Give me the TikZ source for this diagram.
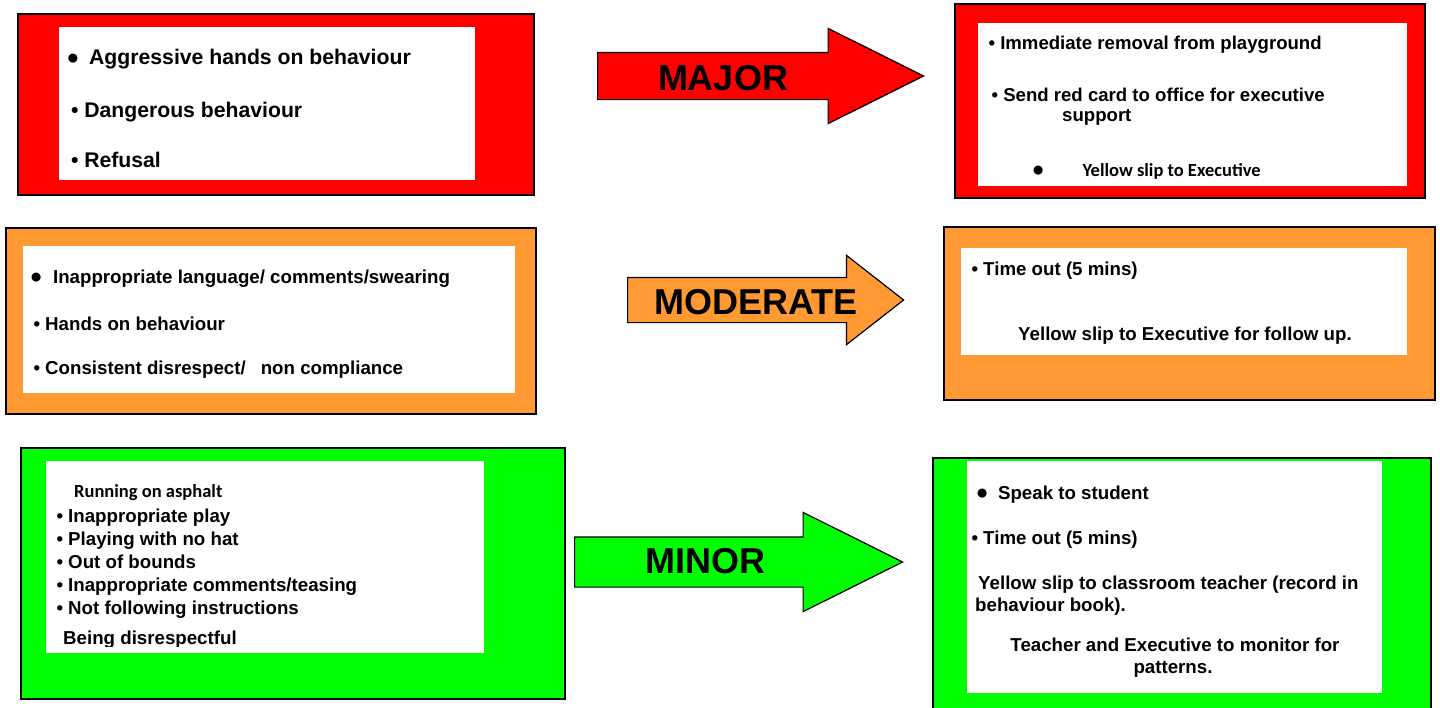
\documentclass[tikz,border=0pt]{standalone}
\usepackage{fontspec}
\setmainfont{Liberation Sans}
\newfontfamily\calibrifont{Carlito}
\usepackage{xcolor}
\usetikzlibrary{shapes.arrows, positioning}

\definecolor{majorred}{RGB}{255,0,0}
\definecolor{moderateorange}{RGB}{255,153,51}
\definecolor{minorgreen}{RGB}{0,255,0}
\newcommand{\fsz}[1]{\fontsize{#1pt}{#1pt}\selectfont}
\newcommand{\bigbul}{{\fsz{21}●}}

\begin{document}
\begin{tikzpicture}[x=1pt, y=-1pt,
    levelbox/.style={draw=black, line width=2.2pt, anchor=north west, inner sep=0pt},
    whitebox/.style={fill=white, anchor=north west, inner sep=0pt},
    bodytext/.style={anchor=base west, inner sep=0pt, font=\bfseries\fsz{18.7}},
    bigarrow/.style={single arrow, draw=black, line width=1.2pt, anchor=tail, inner xsep=0pt},
    arrowtext/.style={inner sep=0pt, font=\bfseries\fsz{36}}]
    \useasboundingbox (0,0) rectangle (1440,707);

    % boxes
    \node[levelbox, fill=majorred, minimum width=516pt, minimum height=181pt] (majorcause) at (17,13) {};
    \node[whitebox, minimum width=416pt, minimum height=153pt] (majorcausein) at (59,27) {};
    \node[levelbox, fill=majorred, minimum width=470pt, minimum height=194pt] (majoraction) at (954,3) {};
    \node[whitebox, minimum width=429pt, minimum height=163pt] (majoractionin) at (978,23) {};

    \node[levelbox, fill=moderateorange, minimum width=530pt, minimum height=186pt] (moderatecause) at (5,227) {};
    \node[whitebox, minimum width=492pt, minimum height=147pt] (moderatecausein) at (23,246) {};
    \node[levelbox, fill=moderateorange, minimum width=491pt, minimum height=173pt] (moderateaction) at (943,226) {};
    \node[whitebox, minimum width=446pt, minimum height=107pt] (moderateactionin) at (961,248) {};

    \node[levelbox, fill=minorgreen, minimum width=544pt, minimum height=251pt] (minorcause) at (20,447) {};
    \node[whitebox, minimum width=438pt, minimum height=192pt] (minorcausein) at (46,461) {};
    \node[levelbox, fill=minorgreen, minimum width=498pt, minimum height=265pt] (minoraction) at (932,457) {};
    \node[whitebox, minimum width=415pt, minimum height=232pt] (minoractionin) at (967,461) {};

    % arrows
    \node[bigarrow, fill=majorred, minimum height=326pt, inner ysep=23pt, single arrow head extend=24pt, single arrow tip angle=53] (majorarrow) at (597,76) {};
    \node[arrowtext] (majorlabel) at (723,78) {MAJOR};
    \node[bigarrow, fill=moderateorange, minimum height=276pt, inner ysep=22pt, single arrow head extend=22pt, single arrow tip angle=76] (moderatearrow) at (627,300) {};
    \node[arrowtext] (moderatelabel) at (756,302) {MODERATE};
    \node[bigarrow, fill=minorgreen, minimum height=328pt, inner ysep=24.5pt, single arrow head extend=24.5pt, single arrow tip angle=53] (minorarrow) at (574,562) {};
    \node[arrowtext] (minorlabel) at (705,561) {MINOR};

    % major texts
    \node[bodytext, font=\bfseries\fsz{21.2}] (mc1) at (66.3,64) {\bigbul\hspace{10pt}Aggressive hands on behaviour};
    \node[bodytext, font=\bfseries\fsz{21.2}] (mc2) at (70.8,117) {•~Dangerous behaviour};
    \node[bodytext, font=\bfseries\fsz{21.2}] (mc3) at (70.8,167) {•~Refusal};
    \node[bodytext, font=\bfseries\fsz{18.6}] (ma1) at (988.4,49) {•~Immediate removal from playground};
    \node[bodytext, font=\bfseries\fsz{18.6}] (ma2) at (991.4,101) {•~Send red card to office for executive};
    \node[bodytext, font=\bfseries\fsz{18.6}] (ma3) at (1062,121) {support};
    \node[bodytext] (ma4) at (1031.7,176) {\bigbul\hspace{38pt}{\calibrifont\fsz{18.5}Yellow slip to Executive}};

    % moderate texts
    \node[bodytext] (dc1) at (29.7,283) {\bigbul\hspace{10.5pt}Inappropriate language/ comments/swearing};
    \node[bodytext] (dc2) at (33.3,330) {•~Hands on behaviour};
    \node[bodytext] (dc3) at (33.3,374) {•~Consistent disrespect/\hspace{15pt}non compliance};
    \node[bodytext] (da1) at (971.3,275) {•~Time out (5 mins)};
    \node[bodytext] (da2) at (1018,340) {Yellow slip to Executive for follow up.};

    % minor texts
    \node[bodytext, font=\bfseries\calibrifont\fsz{18.5}] (nc0) at (74,497) {Running on asphalt};
    \node[bodytext] (nc1) at (56.3,522) {•~Inappropriate play};
    \node[bodytext] (nc2) at (56.3,545) {•~Playing with no hat};
    \node[bodytext] (nc3) at (56.3,568) {•~Out of bounds};
    \node[bodytext] (nc4) at (56.3,591) {•~Inappropriate comments/teasing};
    \node[bodytext] (nc5) at (56.3,614) {•~Not following instructions};
    \begin{scope}
        \clip (46,461) rectangle (484,646);
        \node[bodytext] (nc6) at (63,644) {Being disrespectful};
    \end{scope}
    \node[bodytext] (na1) at (975.7,499) {\bigbul\hspace{9.5pt}Speak to student};
    \node[bodytext] (na2) at (971.3,544) {•~Time out (5 mins)};
    \node[bodytext] (na3) at (978,589) {Yellow slip to classroom teacher (record in};
    \node[bodytext] (na4) at (975,611) {behaviour book).};
    \node[bodytext, anchor=base] (na5) at (1175,651) {Teacher and Executive to monitor for};
    \node[bodytext, anchor=base] (na6) at (1173,673) {patterns.};
\end{tikzpicture}
\end{document}
